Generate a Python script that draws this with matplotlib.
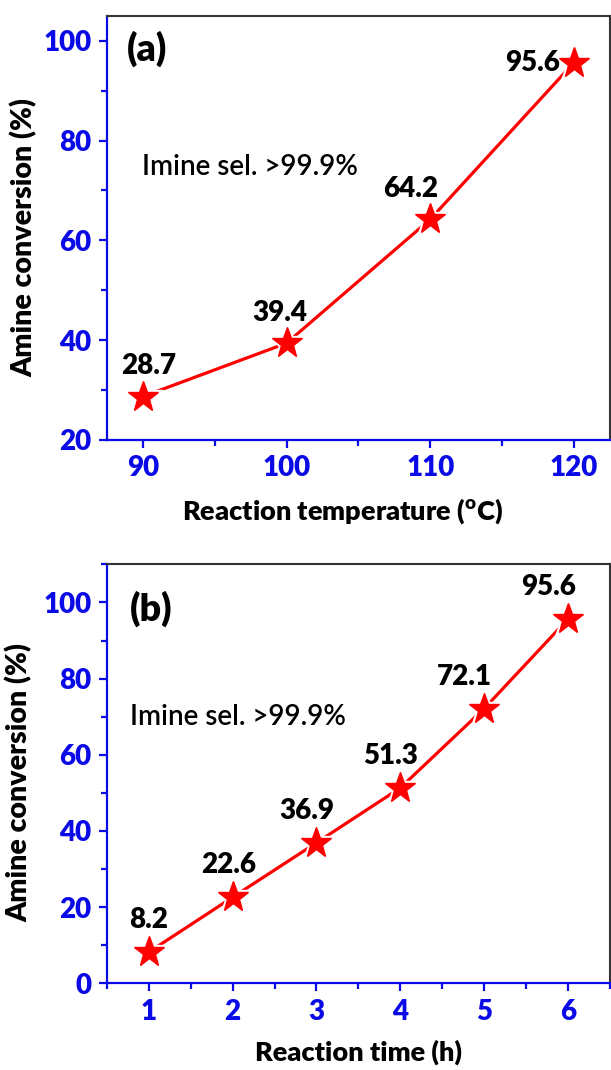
import matplotlib
matplotlib.use("Agg")
import matplotlib.pyplot as plt
from matplotlib.ticker import MultipleLocator

plt.rcParams['font.family'] = ['Lato', 'DejaVu Sans']

# ---- data ----
temp_c = [90, 100, 110, 120]
conv_temp = [28.7, 39.4, 64.2, 95.6]
temp_ticks = [90, 100, 110, 120]

time_h = [1, 2, 3, 4, 5, 6]
conv_time = [8.2, 22.6, 36.9, 51.3, 72.1, 95.6]
time_ticks = [1, 2, 3, 4, 5, 6]

# label offsets (points) – styling only
off_a = [(4, 22), (-5, 22), (-14, 22), (-10, 0)]
off_b = [(0, 23), (-3, 23), (-7, 23), (-7, 23), (-14, 23), (-14, 23)]

BLUE = '#0a0ae6'
RED = '#ff0000'

fig = plt.figure(figsize=(6.11, 10.70), dpi=100)
ax1 = fig.add_axes([0.175, 0.5888, 0.823, 0.3965])
ax2 = fig.add_axes([0.175, 0.0810, 0.823, 0.3916])


def style(ax, xlim, ylim, xmaj, xmin, ymaj, ymin, xticks):
    ax.set_xlim(*xlim)
    ax.set_ylim(*ylim)
    ax.set_xticks(xticks)
    ax.xaxis.set_minor_locator(MultipleLocator(xmin))
    ax.yaxis.set_major_locator(MultipleLocator(ymaj))
    ax.yaxis.set_minor_locator(MultipleLocator(ymin))
    for s in ['left', 'bottom']:
        ax.spines[s].set_color(BLUE)
        ax.spines[s].set_linewidth(1.6)
    for s in ['top', 'right']:
        ax.spines[s].set_color('#333333')
        ax.spines[s].set_linewidth(1.5)
    ax.tick_params(which='major', direction='out', length=6, width=1.6,
                   color=BLUE, labelcolor=BLUE, labelsize=20, pad=5)
    ax.tick_params(which='minor', direction='out', length=4, width=1.6,
                   color=BLUE)
    ax.tick_params(top=False, right=False, which='both')
    for lab in ax.get_xticklabels() + ax.get_yticklabels():
        lab.set_fontweight('heavy')


def draw(ax, x, y, offs, last_left=False):
    ax.plot(x, y, color=RED, lw=2.3, zorder=2)
    ax.plot(x, y, ls='none', marker='*', ms=31, color='white', zorder=3)
    ax.plot(x, y, ls='none', marker='*', ms=23, color=RED, zorder=4)
    for i, (xi, yi) in enumerate(zip(x, y)):
        dx, dy = offs[i]
        ha = 'right' if (last_left and i == len(x) - 1) else 'center'
        ax.annotate(f'{yi}', (xi, yi), xytext=(dx, dy), textcoords='offset points',
                    ha=ha, va='center', fontsize=20, fontweight='heavy', zorder=5)


# panel (a)
style(ax1, (87.5, 122.5), (20, 105), 10, 5, 20, 10, temp_ticks)
draw(ax1, temp_c, conv_temp, off_a, last_left=True)
ax1.text(0.039, 0.923, '(a)', transform=ax1.transAxes, fontsize=27,
         fontweight='heavy', ha='left', va='center')
ax1.text(0.07, 0.643, 'Imine sel. >99.9%', transform=ax1.transAxes, fontsize=20,
         fontweight='semibold', ha='left', va='center')
ax1.set_xlabel('Reaction temperature ($^\\mathregular{o}$C)', fontsize=19.5,
               fontweight='heavy')
ax1.xaxis.set_label_coords(0.469, -0.132)
ax1.set_ylabel('Amine conversion (%)', fontsize=20.5, fontweight='heavy')
ax1.yaxis.set_label_coords(-0.137, 0.478)

# panel (b)
style(ax2, (0.5, 6.5), (0, 110), 1, 0.5, 20, 10, time_ticks)
draw(ax2, time_h, conv_time, off_b)
ax2.text(0.045, 0.895, '(b)', transform=ax2.transAxes, fontsize=27,
         fontweight='heavy', ha='left', va='center')
ax2.text(0.045, 0.636, 'Imine sel. >99.9%', transform=ax2.transAxes, fontsize=20,
         fontweight='semibold', ha='left', va='center')
ax2.set_xlabel('Reaction time (h)', fontsize=19.5, fontweight='heavy')
ax2.xaxis.set_label_coords(0.5, -0.133)
ax2.set_ylabel('Amine conversion (%)', fontsize=20.5, fontweight='heavy')
ax2.yaxis.set_label_coords(-0.147, 0.479)

fig.savefig('out.png', dpi=100)
